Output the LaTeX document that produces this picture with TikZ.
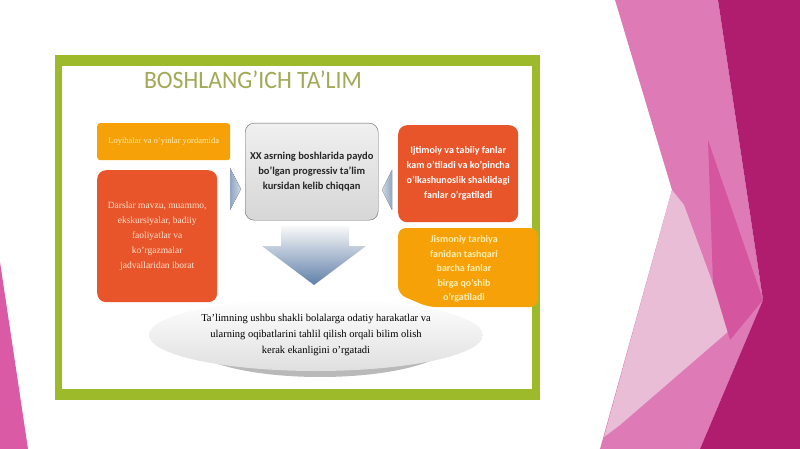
\documentclass[tikz,border=0pt]{standalone}
\usepackage{fontspec}
\setmainfont{Carlito}
\newfontfamily\timesfont{Liberation Serif}
\usetikzlibrary{shapes.geometric,shadows}
\definecolor{framegreen}{HTML}{9DBA2B}
\definecolor{titlegreen}{HTML}{A2A957}
\definecolor{boxorange}{HTML}{F7A109}
\definecolor{boxred}{HTML}{E9552B}
\definecolor{paleyellow}{HTML}{FFEFB0}
\definecolor{palerose}{HTML}{FFE6D0}
\definecolor{arrowblue}{HTML}{5F7FA9}
\definecolor{pinkA}{HTML}{DE7BB6}
\definecolor{pinkB}{HTML}{EABDD7}
\definecolor{pinkC}{HTML}{D6559F}
\definecolor{pinkD}{HTML}{B01C6E}
\definecolor{pinkE}{HTML}{DB5AA6}

\begin{document}
\begin{tikzpicture}[x=1pt,y=-1pt,
	infobox/.style={rectangle, rounded corners=9pt, anchor=north west, align=center, inner sep=2pt},
	chevron/.style={left color=arrowblue!70, right color=arrowblue!30}]
	\useasboundingbox (0,0) rectangle (800,449);
	\fill[white] (0,0) rectangle (800,449);
	% pink background on the right
	\fill[pinkA] (615,0)--(718,0)--(763,300)--(700,449)--(600,449)--(672,190)--cycle;
	\fill[pinkB] (672,190)--(684,205)--(730,330)--(620,425)--(604,437)--cycle;
	\fill[pinkC] (708,140)--(763,300)--(730,340)--(713,283)--cycle;
	\fill[pinkD] (718,0)--(800,0)--(800,449)--(700,449)--(763,300)--cycle;
	\fill[pinkE] (0,262)--(28,449)--(0,449)--cycle;
	
	% frame
	\fill[framegreen] (55,55) rectangle (540,400);
	\fill[white] (62,66) rectangle (532,389);
	\node[titlegreen, font=\fontsize{25}{25}\selectfont, xscale=0.95] (title) at (253,80) {BOSHLANG’ICH TA’LIM};
	
	% boxes on the left
	\node[infobox, rounded corners=3pt, fill=boxorange, minimum width=133pt, minimum height=37pt, text=paleyellow, font=\timesfont\fontsize{8.5}{10}\selectfont] (games) at (97,123) {Loyihalar va o’yinlar yordamida};
	\node[infobox, fill=boxred, minimum width=120pt, minimum height=132pt, text=palerose, font=\timesfont\fontsize{9.5}{15}\selectfont] (lessons) at (97,170) {Darslar mavzu, muammo,\\ekskursiyalar, badiiy\\faoliyatlar va\\ko’rgazmalar\\jadvallaridan iborat};
	
	% centre
	\fill[chevron] (230,168)--(241,189)--(230,210)--cycle;
	\fill[chevron, left color=arrowblue!30, right color=arrowblue!70] (392,170)--(382,190)--(392,210)--cycle;
	\node[infobox, draw=gray!80!black, top color=gray!12, bottom color=gray!32, minimum width=133pt, minimum height=97pt, text=black!85, font=\bfseries\fontsize{10.5}{15}\selectfont] (origin) at (245,123) {XX asrning boshlarida paydo\\bo’lgan progressiv ta’lim\\kursidan kelib chiqqan};
	\shade[top color=gray!5, bottom color=arrowblue] (281,226)--(349,226)--(349,246)--(366,246)--(314,285)--(262,246)--(281,246)--cycle;
	
	% boxes on the right
	\node[infobox, fill=boxred, minimum width=120pt, minimum height=97pt, text=white, font=\bfseries\fontsize{10}{15}\selectfont] (subjects) at (398,125) {Ijtimoiy va tabiiy fanlar\\kam o’tiladi va ko’pincha\\o’lkashunoslik shaklidagi\\fanlar o’rgatiladi};
	\fill[boxorange, rounded corners=8pt] (398,228)--(538,228)--(538,307)--(428,307)--(398,294)--cycle;
	\node[text=paleyellow, align=center, font=\bfseries\fontsize{10}{14.5}\selectfont] (together) at (464,269) {Jismoniy tarbiya\\fanidan tashqari\\barcha fanlar\\birga qo’shib\\o’rgatiladi};
	
	% bottom ellipse
	\fill[gray!55] (320,340) ellipse (134pt and 37pt);
	\node[ellipse, top color=white, bottom color=gray!25, minimum width=264pt, minimum height=72pt, align=center, font=\timesfont\fontsize{10.5}{16}\selectfont] (summary) at (316,335) {Ta’limning ushbu shakli bolalarga odatiy harakatlar va\\ularning oqibatlarini tahlil qilish orqali bilim olish\\kerak ekanligini o’rgatadi};
\end{tikzpicture}
\end{document}
